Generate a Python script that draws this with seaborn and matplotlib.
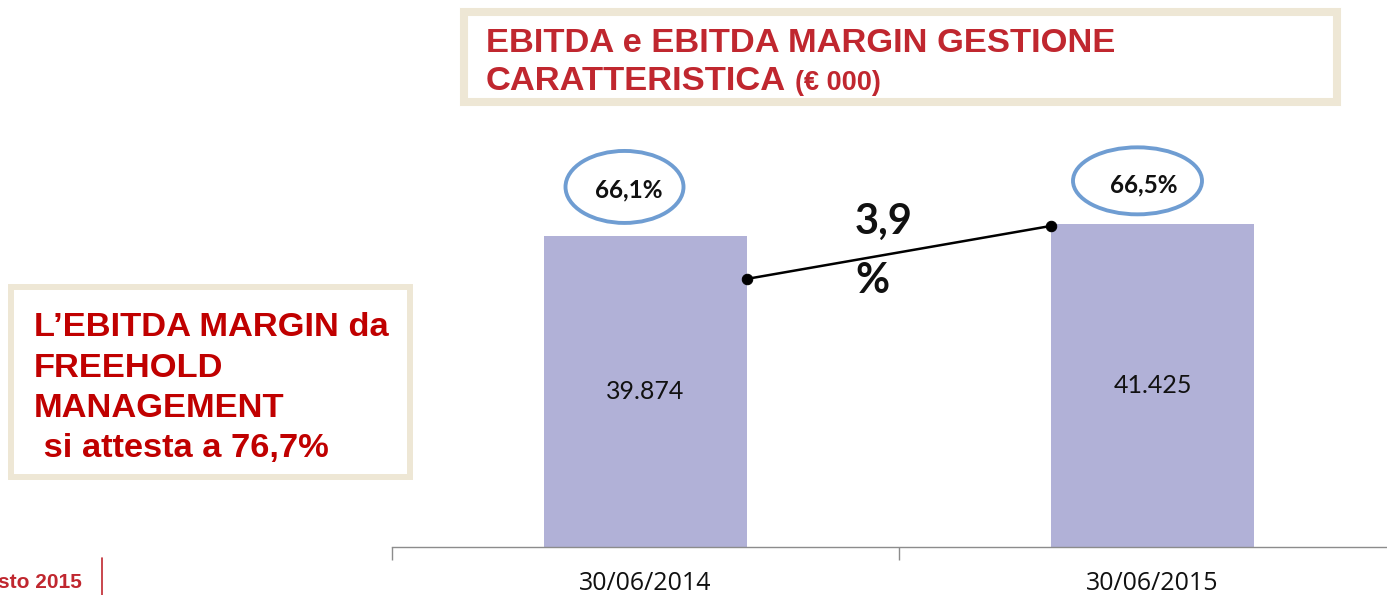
import matplotlib
matplotlib.use("Agg")
import matplotlib.pyplot as plt
from matplotlib.patches import Rectangle, Ellipse
from matplotlib.lines import Line2D
from matplotlib.transforms import ScaledTranslation
import seaborn as sns
import pandas as pd

# ---- data ----
categories = ["30/06/2014", "30/06/2015"]
ebitda = [39874, 41425]
ebitda_labels = ["39.874", "41.425"]
margin = [66.1, 66.5]
margin_labels = ["66,1%", "66,5%"]
growth_label = "3,9\n%"
title_line1 = "EBITDA e EBITDA MARGIN GESTIONE"
title_line2 = "CARATTERISTICA"
title_unit = "(€ 000)"
side_lines = ["L\u2019EBITDA MARGIN da", "FREEHOLD", "MANAGEMENT", " si attesta a 76,7%"]
footer = "sto 2015"

sns.set_theme(style="white")
plt.rcParams["font.family"] = ["Lato", "DejaVu Sans"]

W, H = 1387, 595
fig = plt.figure(figsize=(W / 100, H / 100), dpi=100)

def fx(px):
    return px / W

def fy(py):
    return 1 - py / H

BAR = "#B1B1D7"
ELL = "#6F9DD2"
RED_T = "#C0272F"
RED_L = "#C00000"
BEIGE = "#EEE7D5"
ARIAL = ["Liberation Sans", "DejaVu Sans"]

ax_left, ax_right, ax_bottom, ax_top = 392, 1387, 547, 100
ax = fig.add_axes([fx(ax_left), fy(ax_bottom), fx(ax_right - ax_left), (ax_bottom - ax_top) / H])

df = pd.DataFrame({"cat": categories, "ebitda": ebitda})
bar_w = 0.4
sns.barplot(data=df, x="cat", y="ebitda", color=BAR, width=bar_w, ax=ax,
            saturation=1, edgecolor="none")
ax.bar_label(ax.containers[0], labels=ebitda_labels, label_type="center",
             fontsize=18, color="#111111")

# margin line on twin axis
ax2 = ax.twinx()
xs = [i + bar_w / 2 * (1 - 2 * i) for i in range(len(categories))]
sns.lineplot(x=xs, y=margin, ax=ax2, color="black", linewidth=1.8,
             marker="o", markersize=7.5, markeredgecolor="black")
ax2.set_ylim(64.077, 67.45)
ax2.set_axis_off()

for s in ["left", "right", "top"]:
    ax.spines[s].set_visible(False)
ax.spines["bottom"].set_color("#8C8C8C")
ax.spines["bottom"].set_linewidth(1.0)
ax.set_yticks([])
ax.set_xlabel("")
ax.set_ylabel("")
ax.set_xticks(range(len(categories)))
ax.set_xticklabels(categories, fontsize=18, color="#111111",
                   family=["Open Sans", "DejaVu Sans"])
ax.tick_params(axis="x", which="major", length=0, pad=17)
ax.set_xticks([i - 0.5 for i in range(len(categories) + 1)], minor=True)
ax.tick_params(axis="x", which="minor", bottom=True, length=9, width=1.0,
               color="#8C8C8C", direction="out")

ax.set_xlim(-0.5, -0.5 + (ax_right - ax_left) / 507)
ax.set_ylim(0, 57300)

# margin labels with ellipses (offsets in pixels from the bar top)
ell_off = [(-21, 49, 118, 72), (-15, 43, 129, 67)]
txt_off = [(-17, 46), (-9, 39)]
for i, (v, lab) in enumerate(zip(ebitda, margin_labels)):
    base = fig.dpi_scale_trans + ScaledTranslation(i, v, ax.transData)
    dx, dy, ew, eh = ell_off[i]
    ax.add_patch(Ellipse((dx / 100, dy / 100), ew / 100, eh / 100, transform=base,
                         fc="white", ec=ELL, lw=2.8, clip_on=False, zorder=5))
    tx, ty = txt_off[i]
    ax.annotate(lab, xy=(i, v), xytext=(tx * 0.72, ty * 0.72), textcoords="offset points",
                ha="center", va="center", fontsize=17.5, fontweight="bold",
                color="#111111", zorder=6)

# growth label
fig.text(fx(855), fy(203), growth_label, ha="left", va="top", fontsize=30,
         fontweight="bold", color="#111111", linespacing=1.68)

# title box
fig.patches.append(Rectangle((fx(464), fy(102)), fx(1337 - 464), (102 - 12) / H,
                             transform=fig.transFigure, fill=False, ec=BEIGE, lw=5.8))
fig.text(fx(486), fy(52), title_line1, ha="left", va="baseline", fontsize=24.8,
         fontweight="bold", color=RED_T, family=ARIAL)
fig.text(fx(486), fy(90), title_line2, ha="left", va="baseline", fontsize=24.8,
         fontweight="bold", color=RED_T, family=ARIAL)
fig.text(fx(795), fy(90), title_unit, ha="left", va="baseline", fontsize=19.5,
         fontweight="bold", color=RED_T, family=ARIAL)

# side box
fig.patches.append(Rectangle((fx(11), fy(477)), fx(410 - 11), (477 - 287) / H,
                             transform=fig.transFigure, fill=False, ec=BEIGE, lw=4.3))
baselines = [336, 377, 417, 457]
for line, b in zip(side_lines, baselines):
    fig.text(fx(34), fy(b), line, ha="left", va="baseline", fontsize=24.8,
             fontweight="bold", color=RED_L, family=ARIAL)

# footer
fig.text(fx(82), fy(588), footer, ha="right", va="baseline", fontsize=15,
         fontweight="bold", color=RED_T, family=ARIAL)
fig.lines.append(Line2D([fx(102), fx(102)], [fy(558), fy(595)], transform=fig.transFigure,
                        color=RED_T, lw=1.2))

fig.savefig("out.png", dpi=100)
